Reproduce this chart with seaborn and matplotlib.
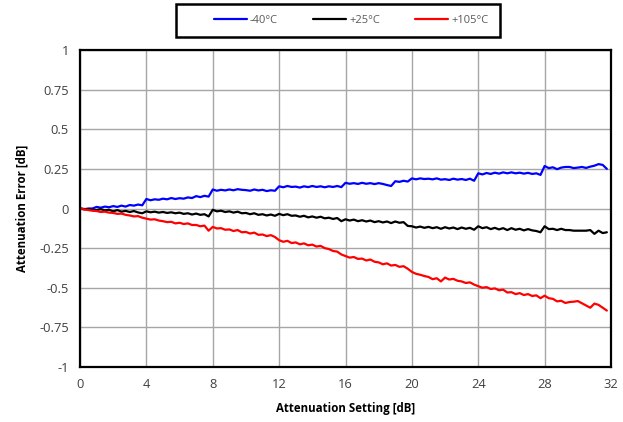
import numpy as np
import pandas as pd
import matplotlib
matplotlib.use("Agg")
import matplotlib.pyplot as plt
from matplotlib.patches import Rectangle
import seaborn as sns

# Attenuation settings: 0 to 31.75 dB in 0.25 dB steps
setting_db = [i * 0.25 for i in range(128)]

err_m40 = [
    0.000, -0.005, 0.000, 0.000,   0.010, 0.005, 0.012, 0.008,
    0.015, 0.010, 0.018, 0.012,    0.022, 0.018, 0.025, 0.020,
    0.060, 0.052, 0.058, 0.055,    0.062, 0.058, 0.066, 0.060,
    0.065, 0.062, 0.070, 0.066,    0.078, 0.072, 0.080, 0.075,
    0.120, 0.112, 0.118, 0.114,    0.120, 0.115, 0.122, 0.118,
    0.116, 0.112, 0.120, 0.114,    0.118, 0.110, 0.115, 0.112,
    0.140, 0.134, 0.142, 0.136,    0.138, 0.132, 0.140, 0.135,
    0.142, 0.136, 0.140, 0.134,    0.140, 0.136, 0.142, 0.135,
    0.162, 0.156, 0.160, 0.155,    0.162, 0.156, 0.160, 0.154,
    0.160, 0.155, 0.148, 0.142,    0.172, 0.168, 0.175, 0.170,
    0.190, 0.184, 0.190, 0.186,    0.188, 0.184, 0.190, 0.182,
    0.185, 0.180, 0.188, 0.182,    0.186, 0.180, 0.188, 0.175,
    0.222, 0.215, 0.224, 0.218,    0.226, 0.220, 0.228, 0.222,
    0.228, 0.222, 0.226, 0.220,    0.225, 0.218, 0.222, 0.212,
    0.268, 0.255, 0.260, 0.248,    0.258, 0.262, 0.262, 0.255,
    0.258, 0.262, 0.256, 0.264,    0.270, 0.280, 0.275, 0.250,
]

err_p25 = [
    0.000, -0.003, -0.005, -0.008,   -0.010, -0.004, -0.012, -0.008,
    -0.018, -0.010, -0.020, -0.015,  -0.022, -0.016, -0.025, -0.030,
    -0.018, -0.024, -0.020, -0.026,  -0.022, -0.028, -0.024, -0.030,
    -0.026, -0.034, -0.030, -0.038,  -0.032, -0.040, -0.036, -0.050,
    -0.008, -0.018, -0.014, -0.022,  -0.018, -0.026, -0.020, -0.030,
    -0.028, -0.036, -0.030, -0.040,  -0.036, -0.044, -0.038, -0.046,
    -0.034, -0.042, -0.036, -0.046,  -0.044, -0.052, -0.046, -0.056,
    -0.050, -0.058, -0.052, -0.062,  -0.058, -0.066, -0.060, -0.080,
    -0.068, -0.076, -0.070, -0.080,  -0.074, -0.082, -0.076, -0.086,
    -0.080, -0.088, -0.082, -0.092,  -0.082, -0.090, -0.086, -0.110,
    -0.112, -0.120, -0.114, -0.122,  -0.116, -0.124, -0.118, -0.128,
    -0.118, -0.126, -0.120, -0.130,  -0.120, -0.128, -0.122, -0.134,
    -0.112, -0.124, -0.118, -0.130,  -0.122, -0.132, -0.124, -0.136,
    -0.124, -0.134, -0.128, -0.138,  -0.130, -0.138, -0.142, -0.150,
    -0.112, -0.130, -0.128, -0.136,  -0.128, -0.136, -0.136, -0.140,
    -0.140, -0.140, -0.140, -0.136,  -0.160, -0.140, -0.155, -0.150,
]

err_p105 = [
    0.000, -0.006, -0.010, -0.014,   -0.016, -0.022, -0.020, -0.026,
    -0.028, -0.034, -0.032, -0.040,  -0.044, -0.050, -0.048, -0.058,
    -0.064, -0.070, -0.068, -0.076,  -0.080, -0.086, -0.084, -0.094,
    -0.090, -0.098, -0.094, -0.104,  -0.104, -0.112, -0.108, -0.140,
    -0.116, -0.126, -0.124, -0.134,  -0.132, -0.142, -0.136, -0.150,
    -0.148, -0.158, -0.152, -0.166,  -0.164, -0.174, -0.168, -0.180,
    -0.200, -0.210, -0.204, -0.218,  -0.214, -0.226, -0.220, -0.232,
    -0.228, -0.240, -0.236, -0.250,  -0.256, -0.268, -0.272, -0.290,
    -0.300, -0.310, -0.306, -0.318,  -0.316, -0.328, -0.322, -0.336,
    -0.340, -0.352, -0.346, -0.360,  -0.356, -0.368, -0.364, -0.380,
    -0.400, -0.412, -0.418, -0.426,  -0.432, -0.446, -0.440, -0.460,
    -0.436, -0.448, -0.444, -0.456,  -0.460, -0.470, -0.466, -0.480,
    -0.490, -0.500, -0.496, -0.508,  -0.504, -0.516, -0.512, -0.530,
    -0.528, -0.540, -0.534, -0.546,  -0.540, -0.552, -0.548, -0.566,
    -0.550, -0.566, -0.570, -0.586,  -0.582, -0.596, -0.590, -0.588,
    -0.584, -0.598, -0.612, -0.626,  -0.600, -0.608, -0.626, -0.644,
]

series_names = ["-40°C", "+25°C", "+105°C"]
series_colors = ["#0000FF", "#000000", "#FF0000"]
x_ticks = [0, 4, 8, 12, 16, 20, 24, 28, 32]
y_ticks = [-1, -0.75, -0.5, -0.25, 0, 0.25, 0.5, 0.75, 1]
y_tick_labels = ["-1", "-0.75", "-0.5", "-0.25", "0", "0.25", "0.5", "0.75", "1"]

df = pd.concat([
    pd.DataFrame({"setting": setting_db, "error": vals, "temp": name})
    for name, vals in zip(series_names, [err_m40, err_p25, err_p105])
], ignore_index=True)

sns.set_theme(style="white")
plt.rcParams["font.family"] = ["Open Sans", "DejaVu Sans"]

W, H = 623, 422
fig = plt.figure(figsize=(W / 100, H / 100), dpi=100)
ax = fig.add_axes([80 / W, 1 - 367 / H, 531 / W, 317 / H])

sns.lineplot(data=df, x="setting", y="error", hue="temp",
             hue_order=series_names, palette=series_colors,
             linewidth=1.6, ax=ax, legend=True)

ax.set_xlim(0, 32)
ax.set_ylim(-1, 1)
ax.set_xticks(x_ticks)
ax.set_xticklabels([str(t) for t in x_ticks])
ax.set_yticks(y_ticks)
ax.set_yticklabels(y_tick_labels)
ax.grid(True, color="#A6A6A6", linewidth=1.0)
ax.set_axisbelow(True)
for sp in ax.spines.values():
    sp.set_color("black")
    sp.set_linewidth(1.6)
ax.tick_params(axis="both", length=0, labelsize=9.3, labelcolor="#404040", pad=8)

ax.set_xlabel("Attenuation Setting [dB]", fontsize=8.3, fontweight="bold",
              color="black", labelpad=8)
ax.set_ylabel("Attenuation Error [dB]", fontsize=8.3, fontweight="bold",
              color="black", labelpad=8)

# Legend: framed box across the top, one entry per temperature
handles, labels = ax.get_legend_handles_labels()
ax.get_legend().remove()
fig.patches.append(Rectangle((176 / W, 1 - 37 / H), 324 / W, 33 / H,
                             transform=fig.transFigure, facecolor="white",
                             edgecolor="black", linewidth=1.8, zorder=5))
entry_x = [214, 313, 415]
for h, lab, ex in zip(handles, labels, entry_x):
    leg = fig.legend([h], [lab], loc="center left",
                     bbox_to_anchor=(ex / W, 1 - 20.5 / H),
                     frameon=False, fontsize=8, borderpad=0, borderaxespad=0,
                     handlelength=2.97, handletextpad=0.27)
    leg.set_zorder(6)
    for txt in leg.get_texts():
        txt.set_color("#595959")
    for ln in leg.get_lines():
        ln.set_linewidth(1.6)

fig.savefig("out.png", dpi=100)
